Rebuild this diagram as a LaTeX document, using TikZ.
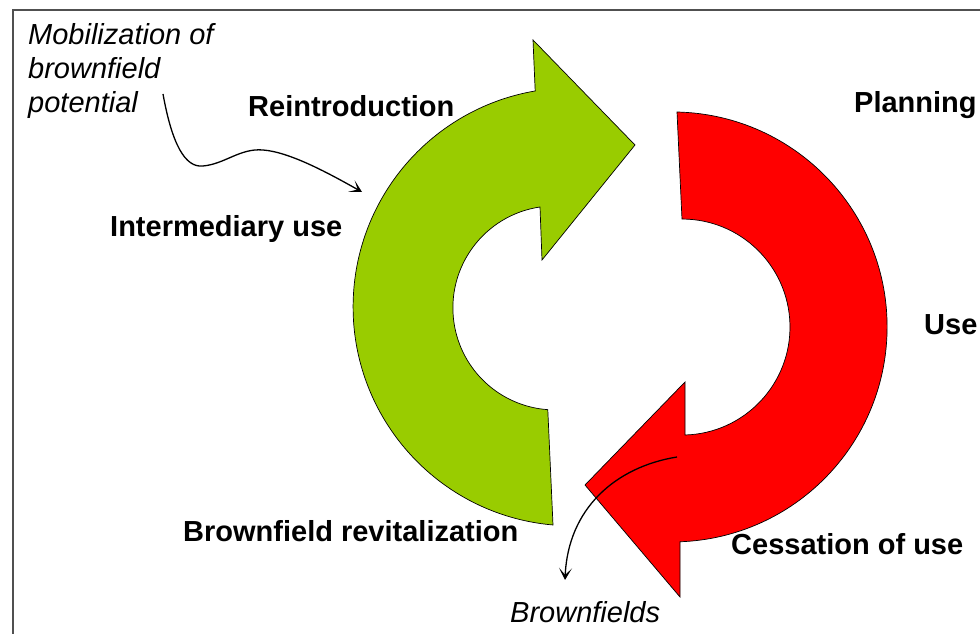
\documentclass[tikz,border=0pt]{standalone}
\usepackage{fontspec}
\setmainfont{Liberation Sans}
\usepackage{xcolor}
\usepackage{tikz}
\usetikzlibrary{arrows.meta,calc}

\definecolor{reuse}{HTML}{99CC00}
\definecolor{loss}{HTML}{FF0000}
\definecolor{framegray}{HTML}{505050}

\begin{document}
\begin{tikzpicture}[x=1pt,y=1pt,
  phase/.style={font=\fontsize{29}{34}\selectfont\bfseries,inner sep=0pt,anchor=base west},
  remark/.style={font=\fontsize{29}{34}\selectfont\itshape,inner sep=0pt},
  band/.style={draw=black,line width=0.7pt,line join=miter},
  pointer/.style={line width=1.3pt,-{Stealth[length=12pt,width=13pt,inset=7pt]}}]
\useasboundingbox (0,0) rectangle (980,634);
\clip (0,0) rectangle (980,634);

% Frame
\draw[framegray,line width=1.8pt] (13,-30) rectangle (1010,624);

% Green arrow (revitalization)
\draw[band,fill=reuse] (553,109) arc[start angle=265,end angle=99.7,radius=219]
  -- (533,594) -- (635,489) -- (542,374) -- (540,427)
  arc[start angle=98.4,end angle=266,radius=102] -- cycle;

% Red arrow (use)
\draw[band,fill=loss] (677,522) arc[start angle=88.7,end angle=-87.9,radius=215]
  -- (680,37) -- (585,149) -- (685,252) -- (685,199)
  arc[start angle=-88.4,end angle=90,radius=108] -- cycle;

% Labels
\node[phase] (reintro) at (248,517) {Reintroduction};
\node[phase] (planning) at (854,521) {Planning};
\node[phase] (interuse) at (110,397) {Intermediary use};
\node[phase] (use) at (924,299) {Use};
\node[phase] (revital) at (183,92) {Brownfield revitalization};
\node[phase] (cessation) at (731,79) {Cessation of use};

% Remarks
\node[remark,anchor=north west,align=left] (mobil) at (28,611) {Mobilization of\\brownfield\\potential};
\node[remark,anchor=base west] (bfields) at (510,11) {Brownfields};

\coordinate (mobstart) at (163,540);
\coordinate (mobend) at (362,442);
\coordinate (bfstart) at (677,177);
\coordinate (bfend) at (565,54);

\draw[pointer] (mobstart) .. controls (172,490) and (185,466) .. (203,468)
  .. controls (225,470) and (240,486) .. (263,484)
  .. controls (290,482) and (330,460) .. (mobend);
\draw[pointer] (bfstart) .. controls (615,167) and (568,125) .. (bfend);
\end{tikzpicture}
\end{document}
